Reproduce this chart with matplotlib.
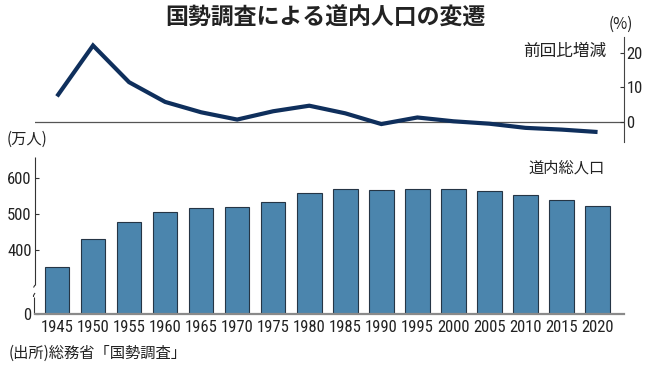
import matplotlib
matplotlib.use("Agg")
import matplotlib.pyplot as plt
from matplotlib import font_manager as fm
import numpy as np

# ---------------- data ----------------
years = [1945, 1950, 1955, 1960, 1965, 1970, 1975, 1980,
         1985, 1990, 1995, 2000, 2005, 2010, 2015, 2020]
year_labels = [str(y) for y in years]
population = [351.8, 429.6, 477.3, 503.9, 517.2, 518.4, 533.8, 557.6,
              567.9, 564.4, 569.2, 568.3, 562.8, 550.6, 538.2, 522.5]   # 万人
change_pct = [7.4, 22.1, 11.5, 5.8, 2.8, 0.7, 3.1, 4.7,
              2.5, -0.6, 1.3, 0.2, -0.5, -1.7, -2.2, -2.9]              # 前回比増減 %
pop_ticks = [400, 500, 600]
pop_tick_labels = ["400", "500", "600"]
pct_ticks = [0, 10, 20]
pct_tick_labels = ["0", "10", "20"]

title = "国勢調査による道内人口の変遷"
source = "(出所)総務省「国勢調査」"

# ---------------- fonts ----------------
CJK = ["Noto Sans CJK JP", "DejaVu Sans"]

def pick_number_font():
    entries = fm.fontManager.ttflist
    names = {f.name for f in entries}
    for cand in ["Liberation Sans Narrow", "Roboto Condensed", "DejaVu Sans Condensed",
                 "Open Sans Condensed", "Noto Sans Condensed"]:
        if cand in names:
            return {"family": cand}, 12
    for f in entries:
        if f.stretch in ("condensed", "semi-condensed") and "Sans" in f.name \
                and f.style == "normal" and f.weight in (400, "normal", "regular"):
            return {"family": f.name, "stretch": f.stretch}, 12
    return {"family": "Liberation Sans"}, 11

NUM_PROPS, NUM_SIZE = pick_number_font()

plt.rcParams["font.family"] = CJK

# ---------------- layout (pixels) ----------------
W, H = 650, 366
fig = plt.figure(figsize=(W / 100, H / 100), dpi=100)
fig.patch.set_facecolor("white")

def fx(px):
    return px / W

def fy(py):
    return 1 - py / H

AX_L, AX_R = 35, 623.5
BAR_TOP, BAR_BOT = 156.7, 314.3
LN_TOP, LN_BOT = 36.5, 141.7
AXIS_BASE = 222.4   # broken axis: baseline shown as 0

TEXT = "#222222"
BAR_C = "#4b85ad"
BAR_EDGE = "#253545"
LINE_C = "#0f2f5c"

x = np.arange(len(years))
xlim = (-0.61, len(years) - 1 + 0.72)

def style_num(labels):
    for lab in labels:
        lab.set_fontfamily(NUM_PROPS["family"])
        if "stretch" in NUM_PROPS:
            lab.set_fontstretch(NUM_PROPS["stretch"])
        lab.set_fontsize(NUM_SIZE)

# ---------------- bottom: population bars ----------------
axb = fig.add_axes([fx(AX_L), fy(BAR_BOT), fx(AX_R - AX_L), (BAR_BOT - BAR_TOP) / H])
vals = np.array(population)
axb.bar(x, vals - AXIS_BASE, bottom=AXIS_BASE, width=0.68,
        color=BAR_C, edgecolor=BAR_EDGE, linewidth=0.8, zorder=2)
axb.set_xlim(*xlim)
axb.set_ylim(AXIS_BASE, 657.7)
axb.set_yticks([AXIS_BASE] + pop_ticks)
axb.set_yticklabels(["0"] + pop_tick_labels)
axb.set_xticks(x)
axb.set_xticklabels(year_labels)
for s in ["top", "right", "left"]:
    axb.spines[s].set_visible(False)
axb.spines["bottom"].set_color("#8a8a8a")
axb.spines["bottom"].set_linewidth(1.6)
axb.tick_params(axis="x", length=0, pad=4, labelcolor=TEXT)
axb.tick_params(axis="y", direction="in", length=3, width=0.8, color="#333333",
                pad=2.5, labelcolor=TEXT)
style_num(axb.get_xticklabels() + axb.get_yticklabels())

# left spine with break
def afy(py):
    return (BAR_BOT - py) / (BAR_BOT - BAR_TOP)

def afx(px):
    return (px - AX_L) / (AX_R - AX_L)

kw = dict(transform=axb.transAxes, color="#333333", lw=0.8, clip_on=False,
          solid_capstyle="butt")
axb.plot([0, 0], [afy(BAR_TOP), afy(285)], **kw)
axb.plot([0, afx(AX_L - 1.5)], [afy(285), afy(287.5)], **kw)
axb.plot([afx(AX_L + 0.0), afx(AX_L - 1.5), afx(AX_L - 1.5)],
         [afy(293), afy(295.5), afy(297)], **kw)
axb.plot([afx(AX_L - 1.5), afx(AX_L - 1.5)], [afy(297), afy(BAR_BOT)], **kw)

# ---------------- top: change line ----------------
axt = fig.add_axes([fx(AX_L), fy(LN_BOT), fx(AX_R - AX_L), (LN_BOT - LN_TOP) / H])
axt.set_xlim(*xlim)
axt.set_ylim(-5.7, 24.7)
axt.axhline(0, color="#555555", lw=0.9, zorder=1)
axt.plot(x, change_pct, color=LINE_C, lw=3.0, solid_joinstyle="miter",
         solid_capstyle="butt", zorder=3)
for s in ["top", "left", "bottom"]:
    axt.spines[s].set_visible(False)
axt.spines["right"].set_color("#444444")
axt.spines["right"].set_linewidth(0.8)
axt.set_xticks([])
axt.yaxis.tick_right()
axt.set_yticks(pct_ticks)
axt.set_yticklabels(pct_tick_labels)
axt.tick_params(axis="y", direction="in", length=3, width=0.8, color="#333333",
                pad=2, labelcolor=TEXT)
style_num(axt.get_yticklabels())

# ---------------- texts ----------------
fig.text(fx(325), fy(18), title, ha="center", va="center", fontsize=16.5,
         fontweight="bold", color=TEXT)
fig.text(fx(621), fy(24), "(%)", ha="center", va="center", fontsize=11, color=TEXT)
fig.text(fx(606), fy(51.5), "前回比増減", ha="right", va="center", fontsize=12, color=TEXT)
fig.text(fx(605), fy(168), "道内総人口", ha="right", va="center", fontsize=11, color=TEXT)
fig.text(fx(7), fy(139), "(万人)", ha="left", va="center", fontsize=11, color=TEXT)
fig.text(fx(9), fy(353), source, ha="left", va="center", fontsize=11, color=TEXT)

fig.savefig("out.png", dpi=100, facecolor="white")
